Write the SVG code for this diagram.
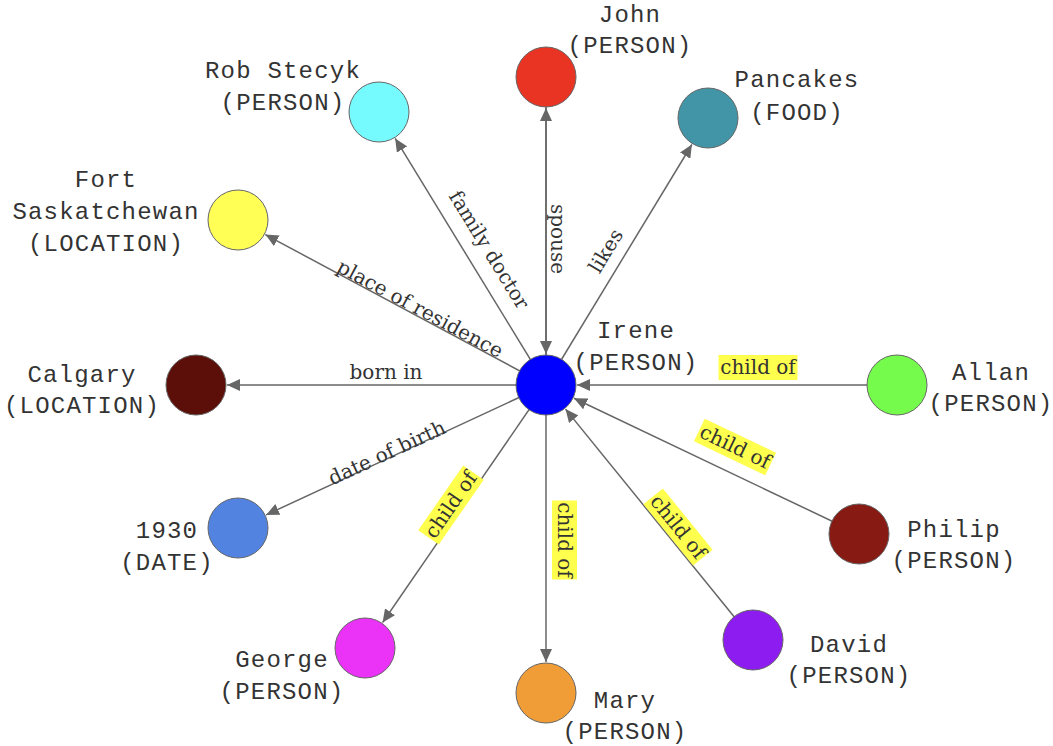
<svg xmlns="http://www.w3.org/2000/svg" width="1053" height="746" viewBox="0 0 1053 746">
<style>
.edge{stroke:#666;stroke-width:1.5;fill:none}
.node{stroke:#666;stroke-width:1}
.nl{font-family:"Liberation Mono","Courier New",monospace;font-size:24px;letter-spacing:1.2px;fill:#333;text-anchor:middle}
.el{font-family:"DejaVu Serif","Liberation Serif",serif;font-size:20px;fill:#333;text-anchor:middle}
.hl{fill:#ffff4d}
</style>
<defs>
<marker id="arr" markerUnits="userSpaceOnUse" markerWidth="14" markerHeight="12" refX="13" refY="6" orient="auto">
<path d="M0,0 L13,6 L0,12 z" fill="#666"/>
</marker>
</defs>
<rect width="1053" height="746" fill="#fff"/>
<g id="connectors">
<line class="edge" x1="546" y1="385" x2="546" y2="108" marker-end="url(#arr)"/>
<line class="edge" x1="546" y1="77" x2="546" y2="354" marker-end="url(#arr)"/>
<line class="edge" x1="546" y1="385" x2="691.9" y2="144.5" marker-end="url(#arr)"/>
<line class="edge" x1="546" y1="385" x2="395.2" y2="138.4" marker-end="url(#arr)"/>
<line class="edge" x1="546" y1="385" x2="265.3" y2="234.6" marker-end="url(#arr)"/>
<line class="edge" x1="546" y1="385" x2="227" y2="385" marker-end="url(#arr)"/>
<line class="edge" x1="546" y1="385" x2="266.1" y2="514.9" marker-end="url(#arr)"/>
<line class="edge" x1="546" y1="385" x2="382.6" y2="622.5" marker-end="url(#arr)"/>
<line class="edge" x1="546" y1="385" x2="546" y2="662" marker-end="url(#arr)"/>
<line class="edge" x1="753" y1="640" x2="565.5" y2="409.1" marker-end="url(#arr)"/>
<line class="edge" x1="859" y1="534" x2="574" y2="398.3" marker-end="url(#arr)"/>
<line class="edge" x1="897" y1="385" x2="577" y2="385" marker-end="url(#arr)"/>
<g transform="translate(557,239) rotate(90)"><text class="el" x="0" y="6.5">spouse</text></g>
<g transform="translate(606,251) rotate(-58.8)"><text class="el" x="0" y="6.5">likes</text></g>
<g transform="translate(489,250) rotate(58.5)"><text class="el" x="0" y="6.5">family doctor</text></g>
<g transform="translate(420,309) rotate(28.2)"><text class="el" x="0" y="6.5">place of residence</text></g>
<g transform="translate(386,372)"><text class="el" x="0" y="6.5">born in</text></g>
<g transform="translate(387,453) rotate(-24.8)"><text class="el" x="0" y="6.5">date of birth</text></g>
<g transform="translate(451,505) rotate(-55.3)"><rect class="hl" x="-39.5" y="-12.5" width="79" height="25"/><text class="el" x="0" y="6.5">child of</text></g>
<g transform="translate(564.5,540) rotate(90)"><rect class="hl" x="-39.5" y="-12.5" width="79" height="25"/><text class="el" x="0" y="6.5">child of</text></g>
<g transform="translate(678,527) rotate(51)"><rect class="hl" x="-39.5" y="-12.5" width="79" height="25"/><text class="el" x="0" y="6.5">child of</text></g>
<g transform="translate(735,447) rotate(25.5)"><rect class="hl" x="-39.5" y="-12.5" width="79" height="25"/><text class="el" x="0" y="6.5">child of</text></g>
<g transform="translate(758,367.5)"><rect class="hl" x="-39.5" y="-12.5" width="79" height="25"/><text class="el" x="0" y="6.5">child of</text></g>
</g>
<g id="irene"><circle class="node" cx="546" cy="385" r="30" fill="#0000ff"/><text class="nl" x="636" y="338">Irene</text><text class="nl" x="636" y="370">(PERSON)</text></g>
<g id="john"><circle class="node" cx="546" cy="77" r="30" fill="#e93323"/><text class="nl" x="630" y="22">John</text><text class="nl" x="630" y="53">(PERSON)</text></g>
<g id="pancakes"><circle class="node" cx="708" cy="118" r="30" fill="#4195a6"/><text class="nl" x="797" y="87">Pancakes</text><text class="nl" x="797" y="120">(FOOD)</text></g>
<g id="rob"><circle class="node" cx="379" cy="112" r="30" fill="#75fbfd"/><text class="nl" x="283" y="78">Rob Stecyk</text><text class="nl" x="283" y="110">(PERSON)</text></g>
<g id="fort"><circle class="node" cx="238" cy="220" r="30" fill="#ffff55"/><text class="nl" x="106" y="187">Fort</text><text class="nl" x="106" y="219">Saskatchewan</text><text class="nl" x="106" y="251">(LOCATION)</text></g>
<g id="calgary"><circle class="node" cx="196" cy="385" r="30" fill="#5c0f08"/><text class="nl" x="82" y="382">Calgary</text><text class="nl" x="82" y="413">(LOCATION)</text></g>
<g id="d1930"><circle class="node" cx="238" cy="528" r="30" fill="#5383e0"/><text class="nl" x="167" y="538">1930</text><text class="nl" x="167" y="570">(DATE)</text></g>
<g id="george"><circle class="node" cx="365" cy="648" r="30" fill="#ea33f7"/><text class="nl" x="282" y="667">George</text><text class="nl" x="282" y="699">(PERSON)</text></g>
<g id="mary"><circle class="node" cx="546" cy="693" r="30" fill="#f09d38"/><text class="nl" x="625" y="708">Mary</text><text class="nl" x="625" y="739">(PERSON)</text></g>
<g id="david"><circle class="node" cx="753" cy="640" r="30" fill="#8c1cf0"/><text class="nl" x="849" y="652">David</text><text class="nl" x="849" y="683">(PERSON)</text></g>
<g id="philip"><circle class="node" cx="859" cy="534" r="30" fill="#871a13"/><text class="nl" x="954" y="537">Philip</text><text class="nl" x="954" y="568">(PERSON)</text></g>
<g id="allan"><circle class="node" cx="897" cy="385" r="30" fill="#75fb4c"/><text class="nl" x="991" y="380">Allan</text><text class="nl" x="991" y="411">(PERSON)</text></g>
</svg>
